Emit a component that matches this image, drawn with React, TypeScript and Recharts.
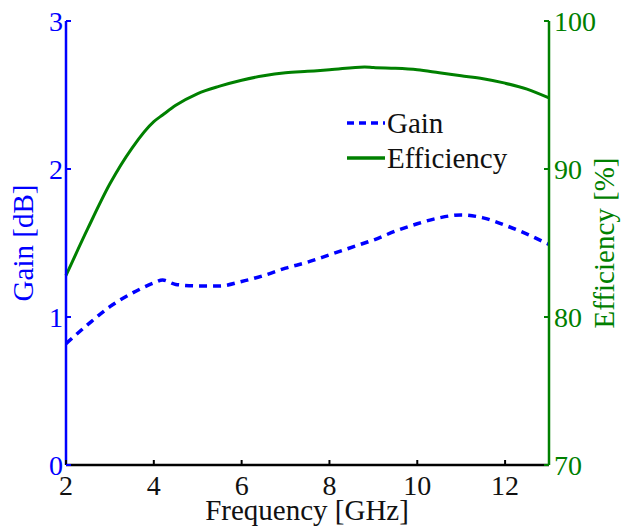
import { ComposedChart, Line, XAxis, YAxis } from 'recharts'

// frequency sweep in GHz
const freq = [2, 2.5, 3, 3.5, 4, 4.2, 4.5, 5, 5.5, 6, 6.5, 7, 7.5, 8, 8.8, 9, 9.5, 10, 10.5, 11, 11.5, 12, 12.5, 13]
// realized gain, dB
const gain = [0.82, 0.95, 1.07, 1.16, 1.23, 1.25, 1.22, 1.21, 1.21, 1.24, 1.28, 1.33, 1.37, 1.42, 1.5, 1.52, 1.58, 1.63, 1.67, 1.69, 1.67, 1.62, 1.56, 1.49]
// radiation efficiency, %
const efficiency = [82.8, 86.0, 89.0, 91.4, 93.2, 93.65, 94.3, 95.1, 95.6, 96.0, 96.3, 96.5, 96.6, 96.7, 96.9, 96.85, 96.8, 96.7, 96.5, 96.3, 96.1, 95.8, 95.4, 94.8]

const freqTicks = [2, 4, 6, 8, 10, 12]
const gainTicks = [0, 1, 2, 3]
const effTicks = [70, 80, 90, 100]

const legendItems = [
  { label: 'Gain', color: '#0000ff', dash: '7 5' },
  { label: 'Efficiency', color: '#008000', dash: undefined },
]

const BLUE = '#0000ff'
const GREEN = '#008000'
const FONT = '"Liberation Serif", "DejaVu Serif", serif'
const TICK_FS = 28
const TITLE_FS = 29

const data = freq.map((f, i) => ({ f, gain: gain[i], eff: efficiency[i] }))

const BottomTick = ({ x, y, payload }: any) => (
  <g>
    <line x1={x} y1={y} x2={x} y2={y - 5} stroke="#000" strokeWidth={2} />
    <text x={x} y={y + 30} textAnchor="middle" fontFamily={FONT} fontSize={TICK_FS} fill="#111">
      {payload.value}
    </text>
  </g>
)

const TopTick = ({ x, y }: any) => (
  <line x1={x} y1={y} x2={x} y2={y + 5} stroke="#000" strokeWidth={2} />
)

const LeftTick = ({ x, y, payload }: any) => (
  <g>
    <line x1={x} y1={y} x2={x + 5} y2={y} stroke={BLUE} strokeWidth={2} />
    <text x={x - 3} y={y + 10} textAnchor="end" fontFamily={FONT} fontSize={TICK_FS} fill={BLUE}>
      {payload.value}
    </text>
  </g>
)

const RightTick = ({ x, y, payload }: any) => (
  <g>
    <line x1={x} y1={y} x2={x - 5} y2={y} stroke={GREEN} strokeWidth={2} />
    <text x={x + 5} y={y + 10} textAnchor="start" fontFamily={FONT} fontSize={TICK_FS} fill={GREEN}>
      {payload.value}
    </text>
  </g>
)

const rotatedLabel = (text: string, dx: number, color: string) => ({ viewBox }: any) => {
  const cx = viewBox.x + dx
  const cy = viewBox.y + viewBox.height / 2
  return (
    <text
      x={cx}
      y={cy}
      transform={`rotate(-90 ${cx} ${cy})`}
      textAnchor="middle"
      dominantBaseline="central"
      fontFamily={FONT}
      fontSize={TITLE_FS}
      fill={color}
    >
      {text}
    </text>
  )
}

export default function App() {
  return (
    <div style={{ position: 'absolute', left: 0, top: 0, width: 624, height: 526, background: '#fff' }}>
      <ComposedChart width={624} height={526} data={data} margin={{ top: 21, right: 0, bottom: 0, left: 0 }}>
        <XAxis
          xAxisId="bottom"
          dataKey="f"
          type="number"
          domain={[2, 13]}
          ticks={freqTicks}
          height={61}
          tickSize={0}
          tickMargin={0}
          tick={<BottomTick />}
          axisLine={{ stroke: '#000', strokeWidth: 2.5 }}
        />
        <XAxis
          xAxisId="top"
          orientation="top"
          dataKey="f"
          type="number"
          domain={[2, 13]}
          ticks={freqTicks}
          height={0}
          tickSize={0}
          tickMargin={0}
          tick={<TopTick />}
          axisLine={{ stroke: '#000', strokeWidth: 2.5 }}
        />
        <YAxis
          yAxisId="gain"
          domain={[0, 3]}
          ticks={gainTicks}
          width={66}
          tickSize={0}
          tickMargin={0}
          tick={<LeftTick />}
          axisLine={{ stroke: BLUE, strokeWidth: 2.5 }}
          label={rotatedLabel('Gain [dB]', 23, BLUE)}
        />
        <YAxis
          yAxisId="eff"
          orientation="right"
          domain={[70, 100]}
          ticks={effTicks}
          width={75}
          tickSize={0}
          tickMargin={0}
          tick={<RightTick />}
          axisLine={{ stroke: GREEN, strokeWidth: 2.5 }}
          label={rotatedLabel('Efficiency [%]', 55, GREEN)}
        />
        <Line
          xAxisId="bottom"
          yAxisId="gain"
          name="Gain"
          dataKey="gain"
          type="monotone"
          stroke={BLUE}
          strokeWidth={3.5}
          strokeDasharray="8 6"
          dot={false}
          isAnimationActive={false}
        />
        <Line
          xAxisId="bottom"
          yAxisId="eff"
          name="Efficiency"
          dataKey="eff"
          type="monotone"
          stroke={GREEN}
          strokeWidth={3}
          dot={false}
          isAnimationActive={false}
        />
      </ComposedChart>
      {/* x axis title, under the tick numbers */}
      <svg width={624} height={40} style={{ position: 'absolute', left: 0, top: 486 }}>
        <text x={307} y={34} textAnchor="middle" fontFamily={FONT} fontSize={TITLE_FS} fill="#111">
          Frequency [GHz]
        </text>
      </svg>
      {/* legend box inside the plot area */}
      <svg width={200} height={80} style={{ position: 'absolute', left: 345, top: 106 }}>
        {legendItems.map((it, i) => (
          <g key={it.label}>
            <line
              x1={2}
              x2={40}
              y1={17 + i * 35}
              y2={17 + i * 35}
              stroke={it.color}
              strokeWidth={3.5}
              strokeDasharray={it.dash}
            />
            <text x={42} y={27 + i * 35} fontFamily={FONT} fontSize={TITLE_FS} fill="#111">
              {it.label}
            </text>
          </g>
        ))}
      </svg>
    </div>
  )
}
